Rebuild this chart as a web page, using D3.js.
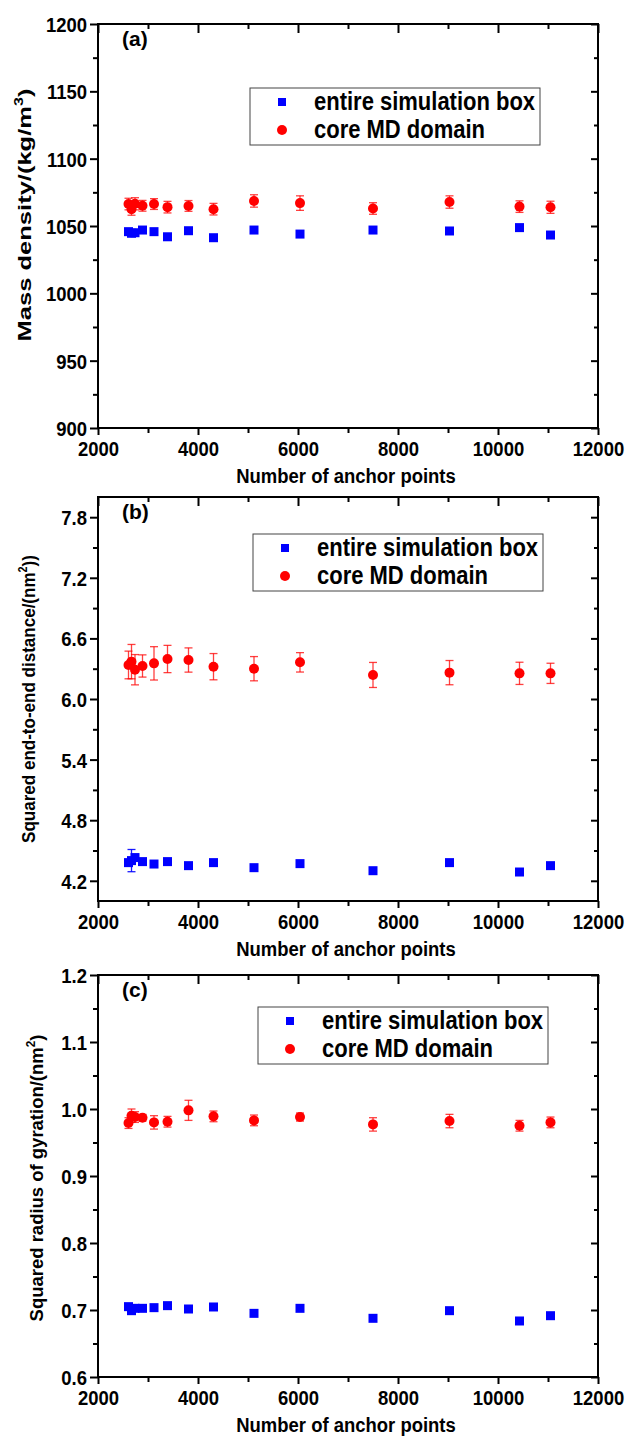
<!DOCTYPE html>
<html><head><meta charset="utf-8">
<script src="https://cdn.jsdelivr.net/npm/d3@7"></script>
<style>
body{margin:0;background:#fff}
svg{display:block}
text{font-family:"Liberation Sans",Arial,Helvetica,sans-serif;font-weight:bold;fill:#000}
</style>
</head><body>
<svg id="chart" width="626" height="1446"></svg>
<script>
// ---------------- data ----------------
const xTicks = [2000, 4000, 6000, 8000, 10000, 12000];
const xMinorTicks = [3000, 5000, 7000, 9000, 11000];
const xTitle = "Number of anchor points";
const legendLabels = ["entire simulation box", "core MD domain"];
const panelLabels = ["(a)", "(b)", "(c)"];

const anchorPoints = [2610, 2670, 2740, 2890, 3120, 3390, 3810, 4310, 5120, 6040, 7500, 9030, 10430, 11050];

// (a) mass density (kg/m^3)
const densityBox    = [1045.8, 1044.6, 1045.0, 1047.0, 1045.8, 1042.0, 1046.5, 1041.3, 1047.0, 1044.0, 1047.0, 1046.3, 1048.8, 1043.3];
const densityBoxErr = [1.5, 1.5, 1.5, 1.5, 1.5, 1.5, 1.5, 1.5, 1.5, 1.5, 1.5, 1.5, 1.5, 1.5];
const densityCore    = [1066.3, 1062.5, 1066.5, 1065.0, 1066.3, 1064.0, 1064.9, 1062.5, 1068.6, 1067.0, 1063.0, 1067.8, 1064.4, 1063.9];
const densityCoreErr = [4.3, 4.5, 4.5, 4.0, 4.0, 4.3, 4.0, 4.3, 4.6, 5.4, 4.3, 4.6, 4.3, 4.5];

// (b) squared end-to-end distance (nm^2)
const ree2Box    = [4.38, 4.40, 4.43, 4.39, 4.366, 4.39, 4.35, 4.38, 4.33, 4.37, 4.30, 4.38, 4.287, 4.35];
const ree2BoxErr = [0.02, 0.11, 0.02, 0.02, 0.02, 0.02, 0.02, 0.02, 0.02, 0.02, 0.02, 0.02, 0.02, 0.02];
const ree2Core    = [6.337, 6.37, 6.29, 6.327, 6.353, 6.396, 6.386, 6.32, 6.30, 6.363, 6.238, 6.261, 6.254, 6.254];
const ree2CoreErr = [0.137, 0.17, 0.15, 0.11, 0.165, 0.135, 0.12, 0.13, 0.12, 0.096, 0.124, 0.12, 0.11, 0.10];

// (c) squared radius of gyration (nm^2)
const rg2Box    = [0.705, 0.699, 0.7025, 0.7025, 0.7035, 0.7065, 0.7015, 0.7045, 0.695, 0.7025, 0.6876, 0.699, 0.6836, 0.6915];
const rg2BoxErr = [0.002, 0.002, 0.002, 0.002, 0.002, 0.002, 0.002, 0.002, 0.002, 0.002, 0.002, 0.002, 0.002, 0.002];
const rg2Core    = [0.979, 0.990, 0.988, 0.987, 0.980, 0.981, 0.998, 0.989, 0.983, 0.988, 0.977, 0.982, 0.975, 0.980];
const rg2CoreErr = [0.008, 0.010, 0.008, 0.005, 0.010, 0.008, 0.015, 0.008, 0.008, 0.006, 0.010, 0.010, 0.008, 0.008];

const yTicksA = [900, 950, 1000, 1050, 1100, 1150, 1200];
const yMinorA = [925, 975, 1025, 1075, 1125, 1175];
const yTicksB = [4.2, 4.8, 5.4, 6.0, 6.6, 7.2, 7.8];
const yMinorB = [4.5, 5.1, 5.7, 6.3, 6.9, 7.5];
const yTicksC = [0.6, 0.7, 0.8, 0.9, 1.0, 1.1, 1.2];
const yMinorC = [0.65, 0.75, 0.85, 0.95, 1.05, 1.15];

// ---------------- layout ----------------
const X0 = 98, X1 = 598, SQ = 0.88, FS = 21;
const panels = [
  {label: panelLabels[0], top: 24, bottom: 428, dom: [900, 1200], major: yTicksA, minor: yMinorA, fmt: d3.format("d"),
   box: densityBox, boxErr: densityBoxErr, core: densityCore, coreErr: densityCoreErr,
   title: [["Mass density/(kg/m", 0], ["3", 1], [")", 0]], tx: 31, tcy: 215, tlen: 253, leg: [250, 88]},
  {label: panelLabels[1], top: 497, bottom: 901, dom: [4.0, 8.0], major: yTicksB, minor: yMinorB, fmt: d3.format(".1f"),
   box: ree2Box, boxErr: ree2BoxErr, core: ree2Core, coreErr: ree2CoreErr,
   title: [["Squared end-to-end distance/(nm", 0], ["2", 1], ["))", 0]], tx: 35, tcy: 699, tlen: 288, leg: [253, 534]},
  {label: panelLabels[2], top: 975, bottom: 1377, dom: [0.6, 1.2], major: yTicksC, minor: yMinorC, fmt: d3.format(".1f"),
   box: rg2Box, boxErr: rg2BoxErr, core: rg2Core, coreErr: rg2CoreErr,
   title: [["Squared radius of gyration/(nm", 0], ["2", 1], [")", 0]], tx: 43, tcy: 1178, tlen: 287, leg: [258, 1007]}
];

const svg = d3.select("#chart");
const x = d3.scaleLinear().domain([2000, 12000]).range([X0, X1]);
const BLUE = "#0000ff", RED = "#ff0000";

function styleAxis(g) {
  g.select(".domain").remove();
  g.attr("font-size", FS).attr("font-family", null);
  g.selectAll("line").attr("stroke", "#000").attr("stroke-width", 2);
}

panels.forEach(p => {
  const y = d3.scaleLinear().domain(p.dom).range([p.bottom, p.top]);
  const g = svg.append("g");

  // bottom axis
  const gb = g.append("g").attr("transform", `translate(0,${p.bottom})`)
    .call(d3.axisBottom(x).tickValues(xTicks).tickSize(7).tickFormat(d3.format("d")));
  styleAxis(gb);
  gb.selectAll("text").attr("y", 28).attr("dy", 0).attr("transform", `scale(${SQ},1)`);
  const gbm = g.append("g").attr("transform", `translate(0,${p.bottom})`)
    .call(d3.axisBottom(x).tickValues(xMinorTicks).tickSize(5).tickFormat(() => ""));
  styleAxis(gbm);

  // top axis (inward)
  const gt = g.append("g").attr("transform", `translate(0,${p.top})`)
    .call(d3.axisTop(x).tickValues(xTicks).tickSize(-9).tickFormat(() => ""));
  styleAxis(gt);
  const gtm = g.append("g").attr("transform", `translate(0,${p.top})`)
    .call(d3.axisTop(x).tickValues(xMinorTicks).tickSize(-5).tickFormat(() => ""));
  styleAxis(gtm);

  // left axis
  const gl = g.append("g").attr("transform", `translate(${X0},0)`)
    .call(d3.axisLeft(y).tickValues(p.major).tickSize(8).tickPadding(3).tickFormat(p.fmt));
  styleAxis(gl);
  gl.selectAll("text").attr("x", -11 / SQ).attr("dy", "0.36em").attr("transform", `scale(${SQ},1)`);
  const glm = g.append("g").attr("transform", `translate(${X0},0)`)
    .call(d3.axisLeft(y).tickValues(p.minor).tickSize(5).tickFormat(() => ""));
  styleAxis(glm);

  // right axis (inward)
  const gr = g.append("g").attr("transform", `translate(${X1},0)`)
    .call(d3.axisRight(y).tickValues(p.major).tickSize(-7).tickFormat(() => ""));
  styleAxis(gr);
  const grm = g.append("g").attr("transform", `translate(${X1},0)`)
    .call(d3.axisRight(y).tickValues(p.minor).tickSize(-4).tickFormat(() => ""));
  styleAxis(grm);

  // frame
  g.append("rect").attr("x", X0).attr("y", p.top).attr("width", X1 - X0).attr("height", p.bottom - p.top)
    .attr("fill", "none").attr("stroke", "#000").attr("stroke-width", 2);

  // error bars
  function errBars(vals, errs, color, op) {
    const eg = g.append("g").attr("stroke", color).attr("stroke-width", 1.3).attr("stroke-opacity", op);
    anchorPoints.forEach((xv, i) => {
      const cx = x(xv), y1 = y(vals[i] - errs[i]), y2 = y(vals[i] + errs[i]);
      eg.append("line").attr("x1", cx).attr("x2", cx).attr("y1", y1).attr("y2", y2);
      eg.append("line").attr("x1", cx - 4).attr("x2", cx + 4).attr("y1", y1).attr("y2", y1);
      eg.append("line").attr("x1", cx - 4).attr("x2", cx + 4).attr("y1", y2).attr("y2", y2);
    });
  }
  errBars(p.box, p.boxErr, BLUE, 0.9);
  errBars(p.core, p.coreErr, RED, 0.75);

  // markers
  g.append("g").selectAll("rect").data(anchorPoints).join("rect")
    .attr("x", (d) => x(d) - 4.5).attr("y", (d, i) => y(p.box[i]) - 4.5)
    .attr("width", 9).attr("height", 9).attr("fill", BLUE);
  g.append("g").selectAll("circle").data(anchorPoints).join("circle")
    .attr("cx", (d) => x(d)).attr("cy", (d, i) => y(p.core[i])).attr("r", 5).attr("fill", RED);

  // panel label
  g.append("text").attr("x", 122).attr("y", p.top + 22).attr("font-size", FS).text(p.label);

  // x title
  g.append("text").attr("transform", `translate(346,${p.bottom + 55}) scale(${SQ},1)`)
    .attr("text-anchor", "middle").attr("font-size", FS).text(xTitle);

  // y title
  const yt = g.append("text").attr("text-anchor", "middle").attr("font-size", 19);
  p.title.forEach(([s, sup], k) => {
    const ts = yt.append("tspan").text(s);
    if (sup) ts.attr("font-size", 12).attr("dy", -8);
    else if (k > 0 && p.title[k - 1][1]) ts.attr("dy", 8);
  });
  const natural = yt.node().getComputedTextLength();
  const sx = p.tlen / natural;
  yt.attr("transform", `translate(${p.tx},${p.tcy}) rotate(-90) scale(${sx},1)`);

  // legend
  const [lx, ly] = p.leg;
  const lg = g.append("g").attr("transform", `translate(${lx},${ly})`);
  lg.append("rect").attr("width", 290).attr("height", 57).attr("fill", "#fff")
    .attr("stroke", "#444").attr("stroke-width", 1);
  lg.append("rect").attr("x", 32 - 4).attr("y", 14 - 4).attr("width", 8).attr("height", 8).attr("fill", BLUE);
  lg.append("circle").attr("cx", 32).attr("cy", 42).attr("r", 5).attr("fill", RED);
  lg.selectAll("text.leg").data(legendLabels).join("text").attr("class", "leg")
    .attr("transform", (d, i) => `translate(64,${i ? 50 : 22}) scale(${SQ},1)`)
    .attr("font-size", 25).text(d => d);
});
</script>
</body></html>
